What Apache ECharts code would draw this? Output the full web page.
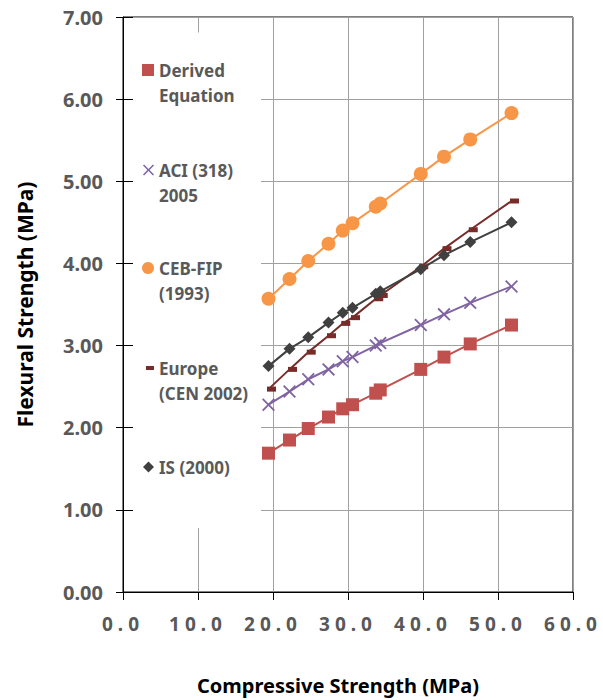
<!DOCTYPE html>
<html>
<head>
<meta charset="utf-8">
<script src="https://cdn.jsdelivr.net/npm/echarts@6/dist/echarts.min.js"></script>
<style>
html,body{margin:0;padding:0;background:#fff;}
#chart{width:603px;height:700px;}
text[fill="#585858"], text[fill="rgb(88,88,88)"]{letter-spacing:5px;}
</style>
</head>
<body>
<div id="chart"></div>
<script>
// ---- data ----
var strength = [19.4, 22.2, 24.7, 27.4, 29.3, 30.6, 33.7, 34.3, 39.7, 42.8, 46.3, 51.8];
var derived  = [1.69, 1.85, 1.99, 2.13, 2.23, 2.28, 2.42, 2.46, 2.71, 2.86, 3.02, 3.25];
var aci      = [2.28, 2.44, 2.59, 2.71, 2.81, 2.86, 3.00, 3.03, 3.25, 3.38, 3.52, 3.72];
var ceb      = [3.57, 3.81, 4.03, 4.24, 4.40, 4.49, 4.69, 4.73, 5.09, 5.30, 5.51, 5.83];
var europe   = [2.47, 2.71, 2.92, 3.12, 3.27, 3.34, 3.57, 3.61, 3.96, 4.18, 4.41, 4.76];
var isCode   = [2.75, 2.96, 3.10, 3.28, 3.40, 3.46, 3.63, 3.66, 3.93, 4.10, 4.26, 4.50];
var seriesNames = ['Derived\nEquation', 'ACI (318)\n2005', 'CEB-FIP\n(1993)', 'Europe\n(CEN 2002)', 'IS (2000)'];
var xTitle = 'Compressive Strength (MPa)';
var yTitle = 'Flexural Strength (MPa)';
// legend box region (in axis units) that hides the gridlines behind the legend
var legendBoxX = [1.33, 18.4];
var legendBoxY = [0.78, 6.81];

function pairs(ys){ return strength.map(function(x,i){ return [x, ys[i]]; }); }

var FONT = '"Noto Sans", "DejaVu Sans", sans-serif';
var xPath = 'path://M0,1L1,0L5,4L9,0L10,1L6,5L10,9L9,10L5,6L1,10L0,9L4,5Z';

var colors = ['#C0504D', '#8064A2', '#F79646', '#772C2A', '#404040'];
var symbols = ['rect', xPath, 'circle', 'rect', 'diamond'];
var symSizes = [13, 13, 14, [9, 5], 12];
var legendIconW = [12, 11, 12, 8, 11];
var legendIconH = [12, 11, 12, 4, 11];
var datas = [derived, aci, ceb, europe, isCode];

var series = datas.map(function(d, i){
  var s = {
    name: seriesNames[i],
    type: 'line',
    data: pairs(d),
    symbol: symbols[i],
    symbolSize: symSizes[i],
    symbolOffset: i === 3 ? [3, 0] : [0, 0],
    showAllSymbol: true,
    lineStyle: {color: colors[i], width: 2},
    itemStyle: {color: colors[i]},
    emphasis: {disabled: true},
    z: 3 + i
  };
  if (i === 0) {
    s.markArea = {
      silent: true,
      itemStyle: {color: '#ffffff', opacity: 1, borderWidth: 0},
      label: {show: false},
      emphasis: {disabled: true},
      data: [[{coord: [legendBoxX[0], legendBoxY[1]]}, {coord: [legendBoxX[1], legendBoxY[0]]}]]
    };
  }
  return s;
});

var iconCenters = [70, 170, 268, 368, 467];
var legends = seriesNames.map(function(n, i){
  var twoLine = n.indexOf('\n') >= 0;
  return {
    data: [{name: n, icon: symbols[i]}],
    orient: 'vertical',
    left: 159 - 5 - legendIconW[i],
    top: twoLine ? iconCenters[i] - 37.5 : iconCenters[i] - 12.5,
    padding: 0,
    itemWidth: legendIconW[i],
    itemHeight: legendIconH[i],
    symbolKeepAspect: false,
    selectedMode: false,
    z: 100,
    formatter: twoLine ? function(name){ return '\n' + name; } : '{name}',
    textStyle: {
      fontFamily: FONT, fontSize: 17, fontWeight: 'bold', color: '#595959',
      lineHeight: 25
    }
  };
});

var chart = echarts.init(document.getElementById('chart'), null, {renderer: 'svg'});
chart.setOption({
  animation: false,
  backgroundColor: '#fff',
  grid: {left: 123, right: 30, top: 17, bottom: 106, show: true, borderColor: '#000', borderWidth: 1, containLabel: false},
  legend: legends,
  xAxis: {
    type: 'value', min: 0, max: 60, interval: 10,
    name: xTitle, nameLocation: 'middle', nameGap: 83,
    nameTextStyle: {fontFamily: FONT, fontSize: 20, fontWeight: 'bold', color: '#000', padding: [0, 20, 0, 0]},
    axisLine: {show: true, lineStyle: {color: '#000', width: 1}},
    axisTick: {show: true, length: 8, lineStyle: {color: '#000'}},
    axisLabel: {margin: 22, fontFamily: FONT, fontSize: 19, fontWeight: 'bold', color: '#585858',
      formatter: function(v){ return v.toFixed(1); }},
    splitLine: {show: true, lineStyle: {color: '#a0a0a0', width: 1}}
  },
  yAxis: [{
    type: 'value', min: 0, max: 7, interval: 1,
    name: yTitle, nameLocation: 'middle', nameGap: 88,
    nameTextStyle: {fontFamily: FONT, fontSize: 21, fontWeight: 'bold', color: '#000'},
    axisLine: {show: true, lineStyle: {color: '#000', width: 1}},
    axisTick: {show: true, length: 7, lineStyle: {color: '#000'}},
    axisLabel: {margin: 20, fontFamily: FONT, fontSize: 20, fontWeight: 'bold', color: '#595959',
      formatter: function(v){ return v.toFixed(2); }},
    splitLine: {show: true, lineStyle: {color: '#a0a0a0', width: 1}}
  }, {
    type: 'value', min: 0, max: 7, interval: 1, position: 'left',
    axisLine: {show: false},
    axisTick: {show: true, inside: true, length: 10, lineStyle: {color: '#000'}},
    axisLabel: {show: false},
    splitLine: {show: false},
    z: 60
  }],
  series: series
});

function spaceX(){
  var ts = document.querySelectorAll('#chart text');
  ts.forEach(function(t){
    if (/^\d+\.0$/.test(t.textContent.trim())) t.setAttribute('letter-spacing', '5');
  });
}
spaceX();
setTimeout(spaceX, 50);
setTimeout(spaceX, 300);
</script>
</body>
</html>
